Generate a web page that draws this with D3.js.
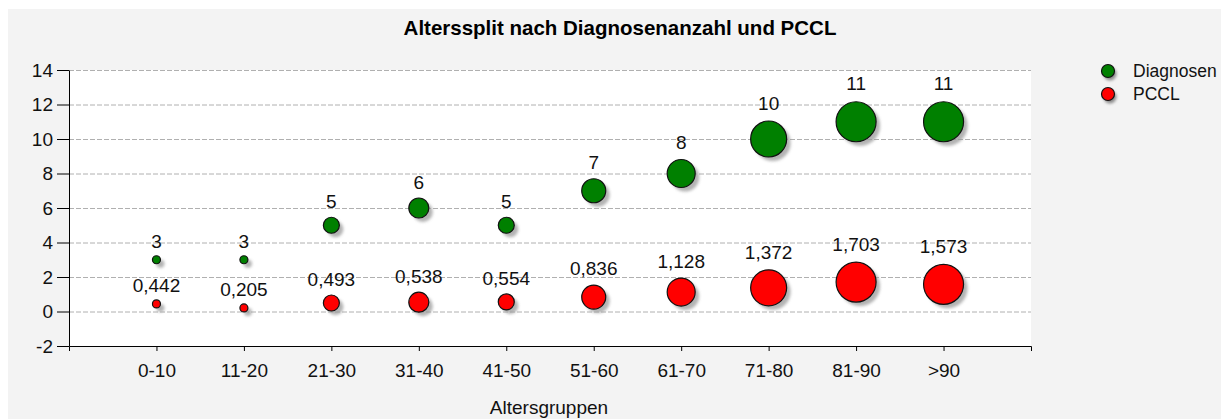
<!DOCTYPE html>
<html>
<head>
<meta charset="utf-8">
<script src="https://cdn.jsdelivr.net/npm/d3@7/dist/d3.min.js"></script>
<style>
  html, body { margin: 0; padding: 0; background: #ffffff; }
  svg { display: block; font-family: "Liberation Sans", Arial, sans-serif; }
</style>
</head>
<body>
<svg id="chart" width="1221" height="419"></svg>
<script>
// Altersgruppen und Werte je Gruppe
const categories = ["0-10", "11-20", "21-30", "31-40", "41-50", "51-60", "61-70", "71-80", "81-90", ">90"];
const diagnosen  = [3, 3, 5, 6, 5, 7, 8, 10, 11, 11];
const pccl       = [0.442, 0.205, 0.493, 0.538, 0.554, 0.836, 1.128, 1.372, 1.703, 1.573];
// Blasengröße: Anzahl Diagnosen je Altersgruppe (für beide Reihen)
const bubbleSize = [3, 3, 5, 6, 5, 7, 8, 10, 11, 11];
const yTicks     = [-2, 0, 2, 4, 6, 8, 10, 12, 14];

const seriesList = [
  { name: "Diagnosen", values: diagnosen, color: "#008000", fmt: v => String(v) },
  { name: "PCCL",      values: pccl,      color: "#ff0000", fmt: v => d3.format(".3f")(v).replace(".", ",") }
];

const svg = d3.select("#chart");
const plot = { left: 69, right: 1031, top: 70, bottom: 346 };
const FS = 19;

// Hintergrundfläche des Diagramms
svg.append("rect").attr("x", 8).attr("y", 9).attr("width", 1213).attr("height", 410).attr("fill", "#f3f3f3");

// Schattenfilter für die Blasen
const defs = svg.append("defs");
defs.append("filter").attr("id", "soft").attr("x", "-50%").attr("y", "-50%").attr("width", "200%").attr("height", "200%")
  .append("feGaussianBlur").attr("stdDeviation", 1.6);

// Plotbereich
svg.append("rect")
  .attr("x", plot.left).attr("y", plot.top)
  .attr("width", plot.right - plot.left).attr("height", plot.bottom - plot.top)
  .attr("fill", "#ffffff");

const x = d3.scalePoint().domain(categories).range([plot.left, plot.right]).padding(1);
const y = d3.scaleLinear().domain([-2, 14]).range([plot.bottom, plot.top]);
const r = d3.scaleLinear().domain([3, 11]).range([4, 20]);

// Gitterlinien
const grid = svg.append("g").attr("transform", `translate(${plot.left},0)`)
  .call(d3.axisLeft(y).tickValues(yTicks.filter(v => v > -2)).tickSize(-(plot.right - plot.left)).tickFormat(""));
grid.select(".domain").remove();
grid.selectAll("line").attr("stroke", "#b0b0b0").attr("stroke-dasharray", "5,2");

// Y-Achse
const yAxis = svg.append("g").attr("transform", `translate(${plot.left},0)`)
  .call(d3.axisLeft(y).tickValues(yTicks).tickFormat(d => String(d)).tickSize(12).tickPadding(4).tickSizeOuter(0));
yAxis.select(".domain").attr("stroke", "#000");
yAxis.selectAll("line").attr("stroke", "#000");
yAxis.selectAll("text").attr("font-size", FS).attr("fill", "#111");

// X-Achse
const xAxis = svg.append("g").attr("transform", `translate(0,${plot.bottom})`)
  .call(d3.axisBottom(x).tickSize(5).tickPadding(13).tickSizeOuter(5));
xAxis.select(".domain").attr("stroke", "#000");
xAxis.selectAll("line").attr("stroke", "#000");
xAxis.selectAll("text").attr("font-size", FS).attr("fill", "#111");

// Blasen mit Schatten und Werten
seriesList.forEach(s => {
  const g = svg.append("g");
  const pts = categories.map((c, i) => ({ c, v: s.values[i], size: bubbleSize[i] }));
  g.selectAll("circle.shadow").data(pts).join("circle")
    .attr("class", "shadow")
    .attr("cx", d => x(d.c) + 4).attr("cy", d => y(d.v) + 4)
    .attr("r", d => r(d.size))
    .attr("fill", "#9a9a9a").attr("opacity", 0.75)
    .attr("filter", "url(#soft)");
  g.selectAll("circle.bubble").data(pts).join("circle")
    .attr("class", "bubble")
    .attr("cx", d => x(d.c)).attr("cy", d => y(d.v))
    .attr("r", d => r(d.size))
    .attr("fill", s.color).attr("stroke", "#111").attr("stroke-width", 1.2);
  g.selectAll("text").data(pts).join("text")
    .attr("x", d => x(d.c))
    .attr("y", d => y(d.v) - (r(d.size) * 1.2 + 14))
    .attr("dy", "0.35em")
    .attr("text-anchor", "middle")
    .attr("font-size", FS).attr("fill", "#111")
    .text(d => s.fmt(d.v));
});

// Titel und Achsentitel
svg.append("text").attr("x", 620).attr("y", 35).attr("text-anchor", "middle")
  .attr("font-size", 20.5).attr("font-weight", "bold").attr("fill", "#000")
  .text("Alterssplit nach Diagnosenanzahl und PCCL");
svg.append("text").attr("x", 549).attr("y", 414).attr("text-anchor", "middle")
  .attr("font-size", FS).attr("fill", "#111").text("Altersgruppen");

// Legende
const legend = svg.append("g");
seriesList.forEach((s, i) => {
  const ly = 71 + i * 23;
  legend.append("circle").attr("cx", 1110).attr("cy", ly + 3).attr("r", 6.5)
    .attr("fill", "#8a8a8a").attr("filter", "url(#soft)");
  legend.append("circle").attr("cx", 1108).attr("cy", ly).attr("r", 6.5)
    .attr("fill", s.color).attr("stroke", "#111").attr("stroke-width", 1.2);
  legend.append("text").attr("x", 1133).attr("y", ly).attr("dy", "0.35em")
    .attr("font-size", 17.5).attr("fill", "#111").text(s.name);
});
</script>
</body>
</html>
